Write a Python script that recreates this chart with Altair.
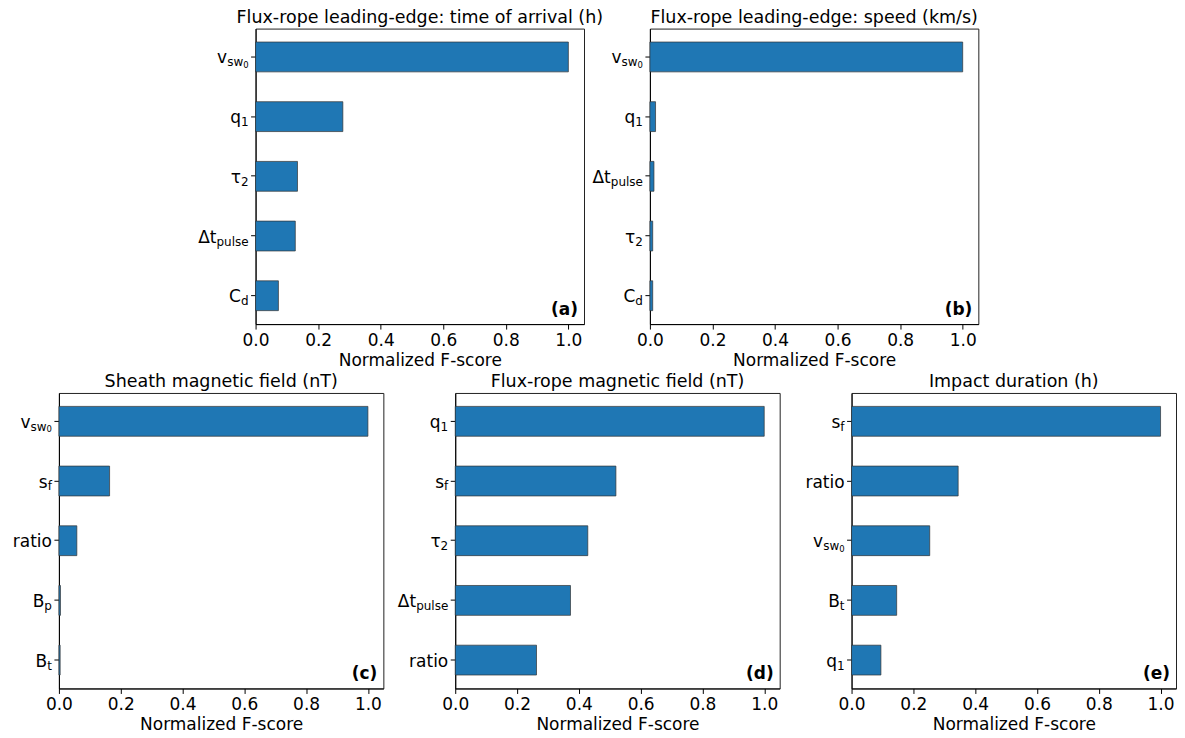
import altair as alt
import pandas as pd

FONT = "DejaVu Sans"

# ---------------- data ----------------
titles = [
    "Flux-rope leading-edge: time of arrival (h)",
    "Flux-rope leading-edge: speed (km/s)",
    "Sheath magnetic field (nT)",
    "Flux-rope magnetic field (nT)",
    "Impact duration (h)",
]
tags = ["(a)", "(b)", "(c)", "(d)", "(e)"]

features_a = ["vsw0", "q1", "tau2", "dtpulse", "Cd"]
values_a = [1.0, 0.279, 0.134, 0.127, 0.073]

features_b = ["vsw0", "q1", "dtpulse", "tau2", "Cd"]
values_b = [1.0, 0.018, 0.013, 0.009, 0.009]

features_c = ["vsw0", "sf", "ratio", "Bp", "Bt"]
values_c = [1.0, 0.164, 0.058, 0.005, 0.004]

features_d = ["q1", "sf", "tau2", "dtpulse", "ratio"]
values_d = [1.0, 0.520, 0.429, 0.373, 0.263]

features_e = ["sf", "ratio", "vsw0", "Bt", "q1"]
values_e = [1.0, 0.345, 0.253, 0.146, 0.095]

# label pieces: (base, subscript, sub-subscript)
label_base = {"vsw0": "v", "q1": "q", "tau2": "τ", "dtpulse": "Δt", "Cd": "C",
              "sf": "s", "ratio": "ratio", "Bp": "B", "Bt": "B"}
label_sub = {"vsw0": "sw", "q1": "1", "tau2": "2", "dtpulse": "pulse", "Cd": "d",
             "sf": "f", "ratio": "", "Bp": "p", "Bt": "t"}
label_subsub = {"vsw0": "0"}

x_ticks = [0.0, 0.2, 0.4, 0.6, 0.8, 1.0]
x_title = "Normalized F-score"

# ---------------- style ----------------
XMAX = 1.05
FS = 17
SIZES = [17, 12, 8.5]
DYS = [6.5, 9.5, 11]
TICK = 5
LABPAD = 2

# DejaVu Sans advance widths (em)
ADV = {"s": 0.521, "w": 0.818, "0": 0.636, "1": 0.636, "2": 0.636, "p": 0.635,
       "u": 0.634, "l": 0.278, "e": 0.615, "d": 0.635, "f": 0.352, "t": 0.392}


def text_width(t, size):
    return sum(ADV.get(ch, 0.6) for ch in t) * size


def panel(features, values, title, tag, W, H):
    df = pd.DataFrame({"feature": features, "score": values})
    xscale = alt.Scale(domain=[0, XMAX], nice=False, zero=False)
    yscale = alt.Scale(paddingInner=0.5, paddingOuter=0.225)
    xaxis = alt.Axis(values=x_ticks, format=".1f", title=x_title, grid=False,
                     tickSize=TICK, labelPadding=3, titlePadding=4,
                     labelFlush=False, labelOverlap=False)
    yaxis = alt.Axis(labels=False, title=None, grid=False, tickSize=TICK)
    yenc = alt.Y("feature:N", sort=features, scale=yscale, axis=yaxis)

    bars = alt.Chart(df).mark_bar(
        color="#1f77b4", stroke="#333333", strokeWidth=0.7
    ).encode(
        x=alt.X("score:Q", scale=xscale, axis=xaxis),
        y=yenc,
    )

    rows = []
    for f in features:
        parts = [(label_base[f], 0)]
        if label_sub.get(f):
            parts.append((label_sub[f], 1))
        if label_subsub.get(f):
            parts.append((label_subsub[f], 2))
        r = -(TICK + LABPAD)
        for txt, lev in reversed(parts):
            rows.append({"feature": f, "text": txt, "level": lev, "xr": r * XMAX / W})
            r -= text_width(txt, SIZES[lev])
    lab = pd.DataFrame(rows)

    layers = [bars]
    for lev in range(3):
        sub = lab[lab["level"] == lev]
        if len(sub) == 0:
            continue
        layers.append(
            alt.Chart(sub).mark_text(
                align="right", baseline="alphabetic", fontSize=SIZES[lev],
                dy=DYS[lev], font=FONT, color="black"
            ).encode(
                x=alt.X("xr:Q", scale=xscale, axis=xaxis),
                y=yenc,
                text="text:N",
            )
        )
    tagc = alt.Chart(pd.DataFrame({"t": [tag]})).mark_text(
        align="right", baseline="alphabetic", fontSize=FS, fontWeight="bold",
        font=FONT, color="black"
    ).encode(x=alt.value(W - 6), y=alt.value(H - 9), text="t:N")
    layers.append(tagc)

    return alt.layer(*layers).properties(
        width=W, height=H,
        title=alt.TitleParams(title, fontSize=17.5, font=FONT, fontWeight="normal",
                              offset=2, color="black"),
    )


TW, BW, PH = 329, 325, 296
pa = panel(features_a, values_a, titles[0], tags[0], TW, PH)
pb = panel(features_b, values_b, titles[1], tags[1], TW, PH)
pc = panel(features_c, values_c, titles[2], tags[2], BW, PH)
pd_ = panel(features_d, values_d, titles[3], tags[3], BW, PH)
pe = panel(features_e, values_e, titles[4], tags[4], BW, PH)

spacer = alt.Chart(pd.DataFrame({"t": [""]})).mark_text().encode(
    text="t:N", x=alt.value(0), y=alt.value(0)
).properties(width=131, height=PH, view=alt.ViewBackground(stroke=None, strokeOpacity=0))

top = alt.hconcat(spacer, pa, pb, spacing=66, bounds="flush")
bottom = alt.hconcat(pc, pd_, pe, spacing=72, bounds="flush")

chart = alt.vconcat(top, bottom, spacing=4).properties(
    padding={"left": 4, "top": 0, "right": 0, "bottom": 2}
).configure_view(
    stroke="#222222", strokeWidth=1
).configure_axis(
    domainColor="black", tickColor="black", labelColor="black", titleColor="black",
    labelFont=FONT, titleFont=FONT, labelFontSize=FS, titleFontSize=FS,
    titleFontWeight="normal", domainWidth=1, tickWidth=1
)

chart.save("out.html", embed_options={"renderer": "svg", "actions": False})
